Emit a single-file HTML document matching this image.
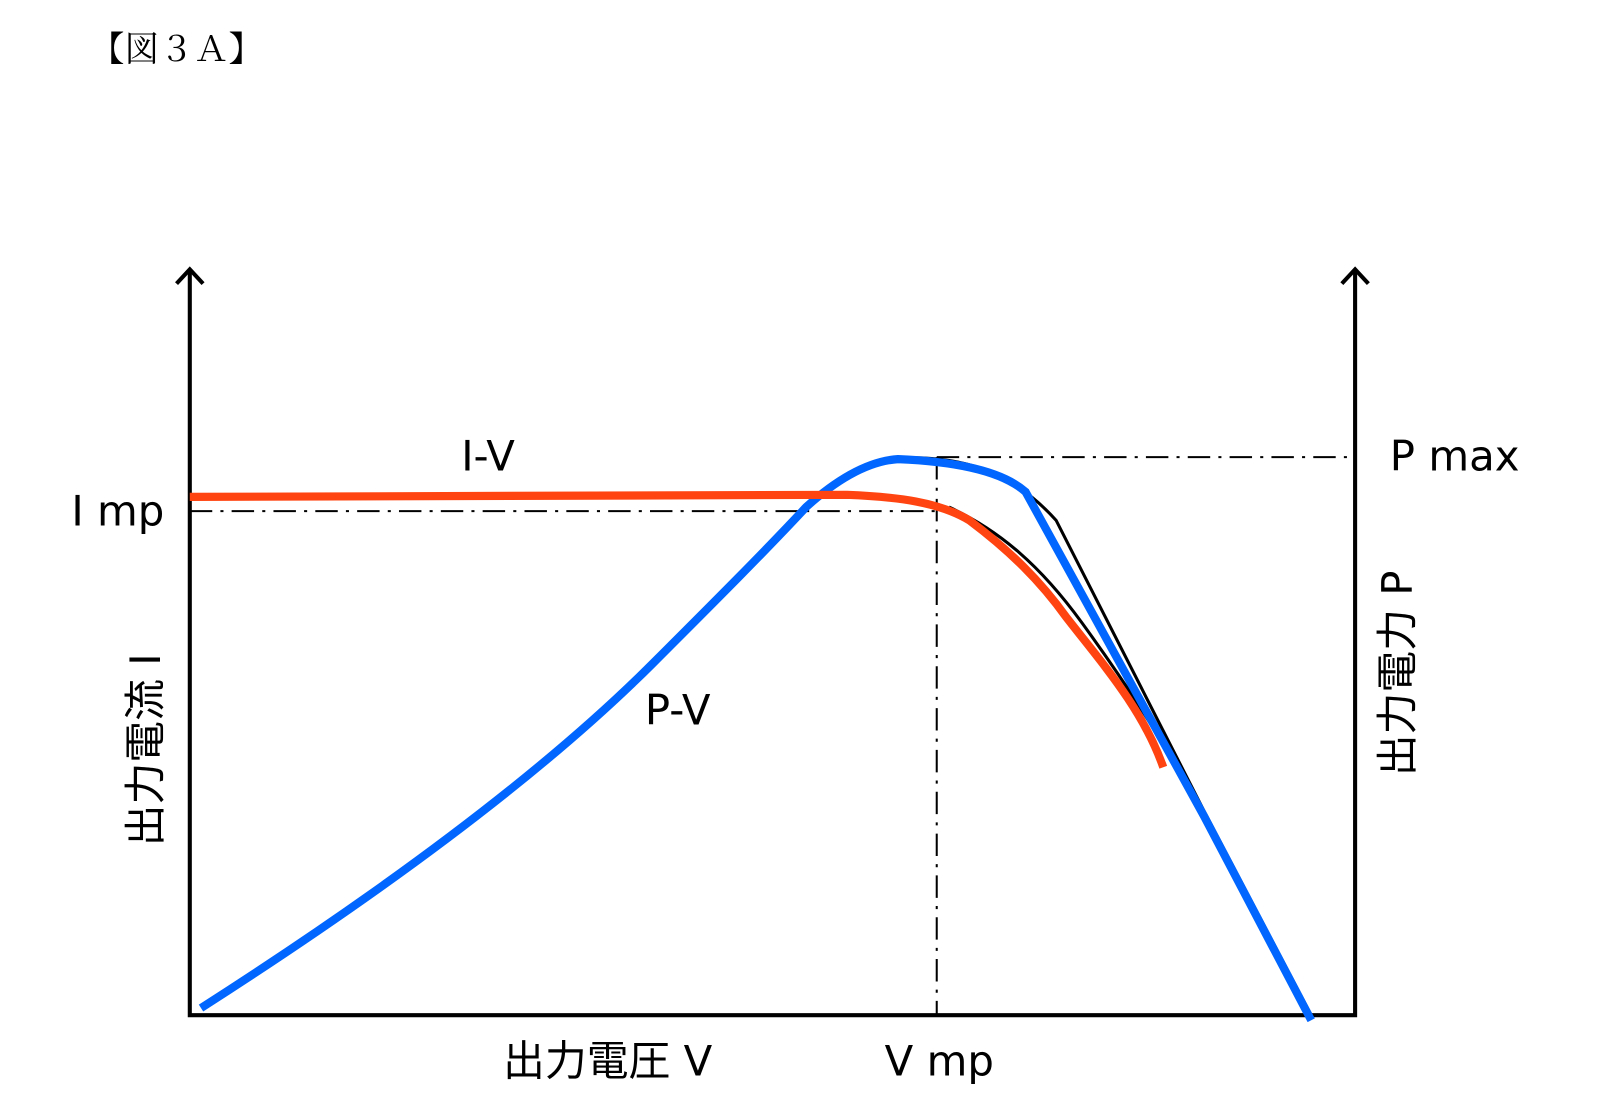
<!DOCTYPE html>
<html><head><meta charset="utf-8"><style>body{margin:0;background:#fff}</style></head><body>
<svg width="1600" height="1107" viewBox="0 0 1568 1085" preserveAspectRatio="none" xmlns="http://www.w3.org/2000/svg" font-family="'DejaVu Sans','Noto Sans CJK JP',sans-serif">
<text x="88" y="60" font-family="'Liberation Serif','Noto Serif CJK SC',serif" font-size="34">【図３Ａ】</text>
<g stroke="#000" stroke-width="4" fill="none">
<path d="M186,265 V995 H1328 V265"/>
<path d="M173,278 L186,264 L199,278"/>
<path d="M1315,278 L1328,264 L1341,278"/>
</g>
<g stroke="#000" stroke-width="2" fill="none" stroke-dasharray="22,8,3,8">
<path d="M186,501 H918"/>
<path d="M918,448 V995"/>
<path d="M918,448 H1328"/>
</g>
<g stroke="#000" stroke-width="3" fill="none">
<path d="M780,505 C810,478 840,458 880,449 C940,446 990,460 1035,510 L1180,795 L1285,995"/>
<path d="M930,497 C980,520 1020,555 1060,610 C1100,665 1140,725 1180,800"/>
</g>
<path d="M197,988 C350,890 520,770 640,650 C700,590 750,540 790,497 C820,470 850,452 880,450 C930,452 980,460 1005,482 L1180,800 L1285,1000" stroke="#0066ff" stroke-width="8" fill="none"/>
<path d="M186,487 L830,485 C880,487 920,492 950,510 C990,540 1020,570 1045,605 C1080,650 1120,695 1140,752" stroke="#ff4411" stroke-width="8" fill="none"/>
<g font-size="41" fill="#000">
<text x="452" y="461">I-V</text>
<text x="70" y="515">I mp</text>
<text x="1362" y="461">P max</text>
<text x="632" y="710">P-V</text>
<text x="493" y="1054">出力電圧 V</text>
<text x="867" y="1054">V mp</text>
<text transform="translate(157,735) rotate(-90)" text-anchor="middle">出力電流 I</text>
<text transform="translate(1384,660) rotate(-90)" text-anchor="middle">出力電力 P</text>
</g>
</svg>
</body></html>
